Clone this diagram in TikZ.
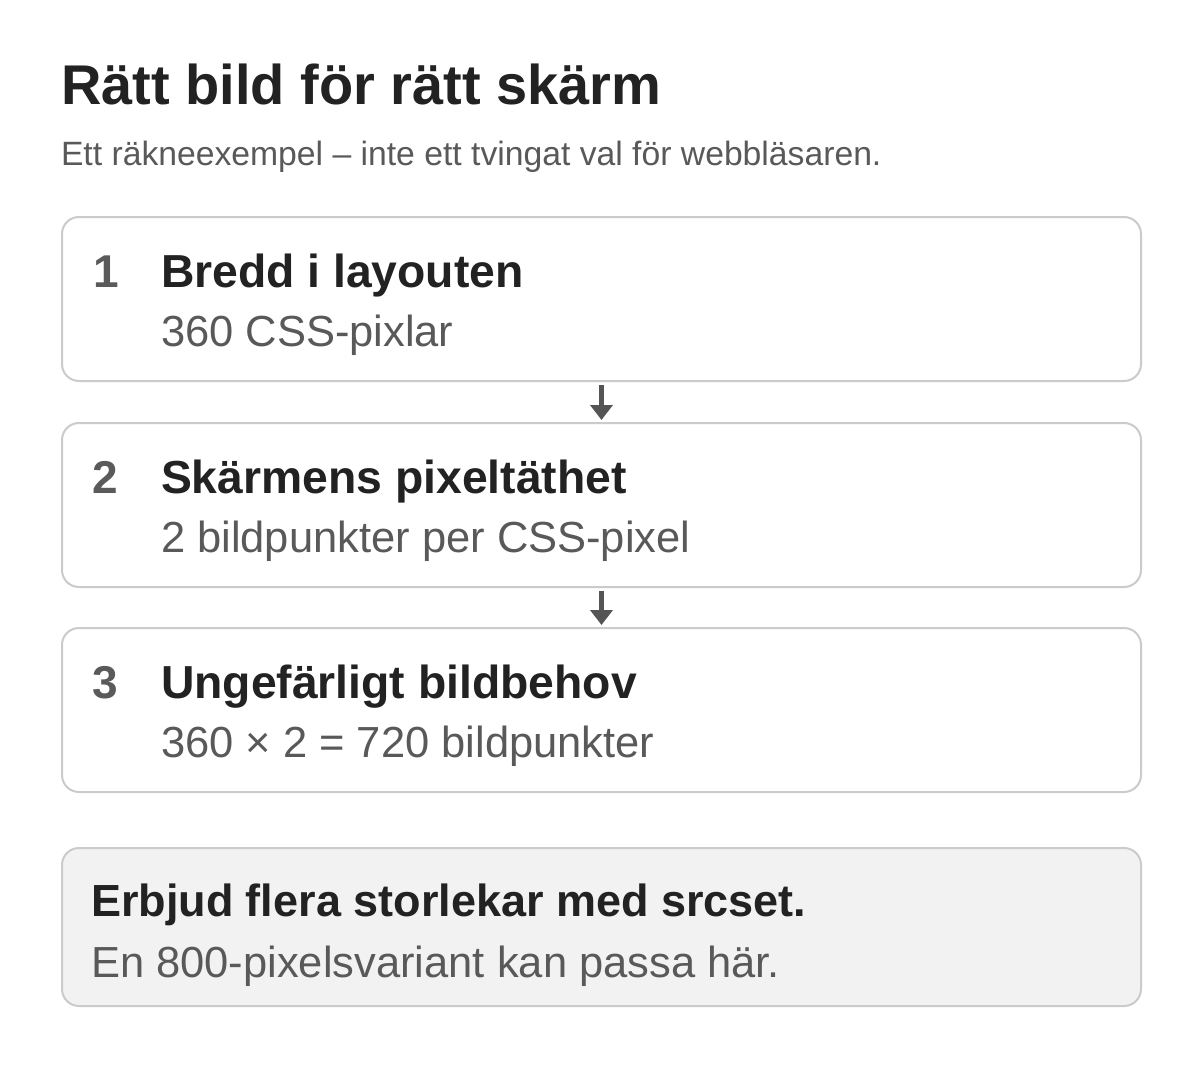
\documentclass[tikz,border=0pt]{standalone}
\usepackage{fontspec}
\setmainfont{Liberation Sans}
\usetikzlibrary{arrows.meta}
\definecolor{ink}{HTML}{222222}
\definecolor{muted}{HTML}{595959}
\definecolor{numc}{HTML}{5A5A5A}
\definecolor{edge}{HTML}{CBCBCB}
\definecolor{notefill}{HTML}{F2F2F2}
\definecolor{arrowc}{HTML}{555555}
\tikzset{
  txt/.style={inner sep=0pt, outer sep=0pt, anchor=base west},
  titletxt/.style={txt, text=ink, font=\fontsize{56}{67}\selectfont\bfseries},
  subtitletxt/.style={txt, text=muted, font=\fontsize{33.7}{40}\selectfont},
  headtxt/.style={txt, text=ink, font=\fontsize{46.3}{55}\selectfont\bfseries},
  noteheadtxt/.style={txt, text=ink, font=\fontsize{45}{54}\selectfont\bfseries},
  numtxt/.style={txt, text=numc, font=\fontsize{46}{54}\selectfont\bfseries},
  bodytxt/.style={txt, text=muted, font=\fontsize{43.5}{52}\selectfont},
  stepbox/.style={draw=edge, line width=2pt, rounded corners=17pt, fill=white,
    minimum width=1079pt, minimum height=164pt, anchor=north west, inner sep=0pt},
  notebox/.style={stepbox, fill=notefill, minimum height=158pt},
  flowarrow/.style={draw=arrowc, line width=4.5pt,
    -{Triangle[length=15pt,width=22pt]}, shorten <=3pt, shorten >=2pt}
}
\begin{document}
\begin{tikzpicture}[x=1pt,y=-1pt]
\useasboundingbox[fill=white] (0,0) rectangle (1200,1070);

\node[titletxt] (title) at (61,105) {Rätt bild för rätt skärm};
\node[subtitletxt] (subtitle) at (61,165) {Ett räkneexempel – inte ett tvingat val för webbläsaren.};

\node[stepbox] (b1) at (61,216) {};
\node[stepbox] (b2) at (61,422) {};
\node[stepbox] (b3) at (61,627) {};
\node[notebox] (b4) at (61,847) {};

\node[numtxt] (n1) at (93,287) {1};
\node[headtxt] (h1) at (161,287) {Bredd i layouten};
\node[bodytxt] (s1) at (161,346) {360 CSS-pixlar};

\node[numtxt] (n2) at (92,493) {2};
\node[headtxt] (h2) at (161,493) {Skärmens pixeltäthet};
\node[bodytxt] (s2) at (161,552) {2 bildpunkter per CSS-pixel};

\node[numtxt] (n3) at (92,698) {3};
\node[headtxt] (h3) at (161,698) {Ungefärligt bildbehov};
\node[bodytxt] (s3) at (161,757) {360 × 2 = 720 bildpunkter};

\node[noteheadtxt] (h4) at (91,916) {Erbjud flera storlekar med srcset.};
\node[bodytxt] (s4) at (91,977) {En 800-pixelsvariant kan passa här.};

\draw[flowarrow] (b1.south) -- (b2.north);
\draw[flowarrow] (b2.south) -- (b3.north);
\end{tikzpicture}
\end{document}
